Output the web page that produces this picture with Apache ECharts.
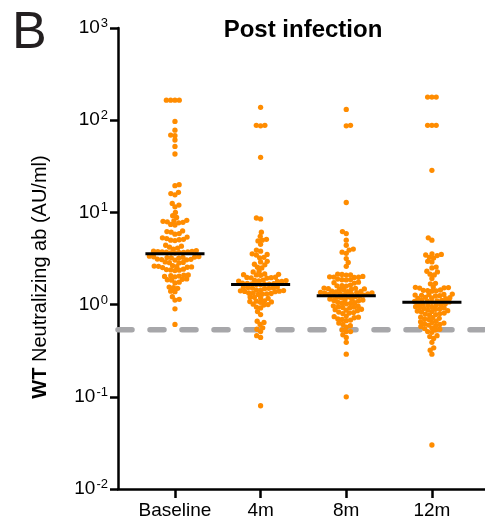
<!DOCTYPE html>
<html>
<head>
<meta charset="utf-8">
<script src="https://cdn.jsdelivr.net/npm/echarts@6/dist/echarts.min.js"></script>
<style>
html,body{margin:0;padding:0;background:#fff;}
#c{width:485px;height:522px;}
</style>
</head>
<body>
<div id="c"></div>
<script>
const categories = ['Baseline', '4m', '8m', '12m'];
const baseline = [165, 165, 165, 165, 97, 78, 69, 68, 61, 52, 43,
  20, 19.5, 16.5, 16, 15.5, 12.5, 12, 11.5, 10, 9.2, 8.8,
  8.2, 8.1, 8, 7.9, 7.8, 7.7, 7.4, 7.3, 6.3, 6.2, 6.1, 5.9, 5.8, 5.4, 5.3, 5.2, 5.1, 5.05, 5.0, 4.95,
  4.4, 4.3, 4.2, 4.1, 4.0,
  3.85, 3.8, 3.78, 3.76, 3.74, 3.72, 3.7, 3.68, 3.66, 3.64, 3.62,
  3.35, 3.32, 3.3, 3.28, 3.26, 3.24, 3.22, 3.2, 3.12, 3.1, 3.08, 3.06, 3.04,
  2.9, 2.87, 2.85, 2.83, 2.65, 2.62, 2.6, 2.58, 2.56, 2.54, 2.52, 2.42, 2.4, 2.38, 2.36, 2.34,
  2.1, 2.08, 2.06, 2.04, 2.02, 2.0, 1.9, 1.88, 1.86, 1.84, 1.75, 1.72, 1.55, 1.53, 1.5, 1.4, 1.38, 1.22, 1.14, 1.12, 0.9, 0.61];
const month4 = [138, 88, 88, 87, 39.6, 8.7, 8.5, 6.1, 5.5, 5.1, 5.0, 4.9, 4.5, 3.9, 3.8, 3.55, 3.5, 3.45, 3.26, 3.22, 2.95, 2.9, 2.74, 2.7, 2.54, 2.5, 2.3, 2.26,
  2.15, 2.13, 2.11, 2.1, 2.08, 1.98, 1.97, 1.96, 1.95, 1.94,
  1.84, 1.83, 1.82, 1.81, 1.8, 1.79, 1.78,
  1.71, 1.7, 1.69, 1.68, 1.67, 1.66, 1.65, 1.64,
  1.55, 1.54, 1.53, 1.52, 1.51, 1.5, 1.49,
  1.44, 1.43, 1.42, 1.41, 1.4, 1.39, 1.38,
  1.34, 1.33, 1.32, 1.31, 1.3, 1.29,
  1.21, 1.2, 1.18, 1.17,
  1.1, 1.09, 1.08, 1.07, 1.06,
  1.01, 1.0, 0.99, 0.94, 0.92, 0.84, 0.78, 0.66, 0.64, 0.61, 0.56, 0.54, 0.51, 0.46, 0.44, 0.08];
const month8 = [131, 88, 87, 12.8, 6.2, 5.9, 5.0, 4.4, 4.0, 3.9, 3.7, 3.6, 3.16, 2.86, 2.6,
  2.14, 2.12, 2.1, 2.09, 2.02, 2.0, 1.99, 1.98, 1.97,
  1.89, 1.87, 1.86, 1.85, 1.75, 1.73, 1.71, 1.63, 1.61, 1.6, 1.59,
  1.51, 1.5, 1.49, 1.48, 1.47, 1.46, 1.45,
  1.4, 1.39, 1.38, 1.37, 1.36, 1.35, 1.34,
  1.33, 1.32, 1.31, 1.3, 1.29, 1.28, 1.27, 1.26,
  1.23, 1.22, 1.21, 1.2, 1.19,
  1.15, 1.14, 1.13, 1.12, 1.11, 1.1,
  1.06, 1.05, 1.04, 1.03, 1.02,
  0.97, 0.96, 0.95, 0.94, 0.93, 0.92,
  0.89, 0.88, 0.87, 0.86, 0.83, 0.82, 0.81, 0.8,
  0.75, 0.74, 0.73, 0.72, 0.7, 0.69, 0.68, 0.67,
  0.63, 0.61, 0.59, 0.57, 0.53, 0.51, 0.51, 0.47, 0.44, 0.39, 0.29, 0.1];
const month12 = [178, 178, 178, 88, 88, 88, 28.6, 5.3, 5.0, 3.55, 3.5, 3.45, 3.4, 3.26, 3.2, 2.95, 2.9, 2.55, 2.5, 2.3, 2.26, 2.14, 2.1, 1.92, 1.7, 1.68,
  1.55, 1.54, 1.53, 1.52, 1.51,
  1.44, 1.43, 1.42, 1.41, 1.4,
  1.3, 1.29, 1.28, 1.27, 1.26, 1.25, 1.24,
  1.2, 1.19, 1.18, 1.17, 1.16,
  1.12, 1.11, 1.1, 1.09, 1.08, 1.07, 1.06,
  1.03, 1.02, 1.01, 1.0, 0.99, 0.98,
  0.95, 0.94, 0.93, 0.92, 0.91, 0.9, 0.89,
  0.87, 0.86, 0.85, 0.84, 0.83,
  0.81, 0.8, 0.79, 0.78, 0.77,
  0.73, 0.72, 0.71, 0.7, 0.69,
  0.66, 0.65, 0.64, 0.63, 0.62,
  0.61, 0.6, 0.59, 0.58,
  0.56, 0.55, 0.54, 0.53,
  0.51, 0.5, 0.46, 0.45, 0.43, 0.39, 0.34, 0.32, 0.29, 0.03];
const medians = [3.55, 1.65, 1.25, 1.06];
const threshold = 0.535;
const groups = [baseline, month4, month8, month12];

const FONT = "'Liberation Sans', Arial, sans-serif";
const ORANGE = '#ff8c00';
const X_MIN = 0.335, X_MAX = 4.62;

const chart = echarts.init(document.getElementById('c'), null, {renderer: 'canvas'});

const option = {
  animation: false,
  backgroundColor: '#fff',
  grid: {left: 118, right: 0, top: 28, bottom: 33},
  graphic: [
    {type: 'text', left: 12, top: 8, style: {text: 'B', fontSize: 52, fontFamily: FONT, fill: '#231f20'}},
    {type: 'text', x: 303, y: 30, style: {text: 'Post infection', fontSize: 24, fontWeight: 'bold', fontFamily: FONT, fill: '#000', align: 'center', verticalAlign: 'middle'}},
    {type: 'text', x: 40, y: 277, rotation: Math.PI / 2,
      style: {text: '{b|WT} Neutralizing ab (AU/ml)', fontSize: 20, fontFamily: FONT, fill: '#000', align: 'center', verticalAlign: 'middle',
        rich: {b: {fontWeight: 'bold', fontSize: 20, fontFamily: FONT, fill: '#000'}}}}
  ],
  xAxis: {
    type: 'value', min: X_MIN, max: X_MAX,
    splitLine: {show: false},
    axisLine: {show: true, lineStyle: {color: '#000', width: 2.5}},
    axisTick: {show: true, customValues: [1, 2, 3, 4], length: 9, lineStyle: {color: '#000', width: 2.5}},
    axisLabel: {customValues: [1, 2, 3, 4], formatter: v => categories[Math.round(v) - 1], fontSize: 19, fontFamily: FONT, color: '#000', margin: 12}
  },
  yAxis: {
    type: 'log', logBase: 10, min: 0.01, max: 1000,
    splitLine: {show: false},
    minorTick: {show: false},
    axisLine: {show: true, lineStyle: {color: '#000', width: 2.5}},
    axisTick: {show: true, length: 8, lineStyle: {color: '#000', width: 2.5}},
    axisLabel: {
      margin: 10,
      formatter: v => '{b|10}{s|' + Math.round(Math.log10(v)) + '}',
      rich: {
        b: {fontSize: 19, fontFamily: FONT, color: '#000', lineHeight: 22, verticalAlign: 'middle'},
        s: {fontSize: 13, fontFamily: FONT, color: '#000', lineHeight: 22, verticalAlign: 'top', padding: [0, 0, 0, 1]}
      }
    }
  },
  series: [
    {type: 'line', id: 'thr', data: [[X_MIN, threshold], [X_MAX, threshold]], symbol: 'none', silent: true, z: 1,
      lineStyle: {color: '#a7a7aa', width: 5.5, type: [14, 18], cap: 'round'}},
    ...groups.map((g, i) => ({type: 'scatter', id: 's' + i, data: g.map(v => [i + 1, v]), symbolSize: 5.3, z: 2,
      itemStyle: {color: ORANGE, opacity: 1}})),
    {type: 'custom', id: 'med', z: 5, data: medians.map((m, i) => [i + 1, m]),
      renderItem: (params, api) => {
        const x = api.value(0), y = api.value(1);
        const p1 = api.coord([x - 0.345, y]);
        const p2 = api.coord([x + 0.345, y]);
        return {type: 'line', shape: {x1: p1[0], y1: p1[1], x2: p2[0], y2: p2[1]}, style: {stroke: '#000', lineWidth: 3}};
      }}
  ]
};
chart.setOption(option);

// beeswarm layout (pixel space) computed from values
const D = 4.3;
function swarm(idx, values) {
  const cx = chart.convertToPixel({gridIndex: 0}, [idx, 1])[0];
  const pts = values.map(v => ({v, py: chart.convertToPixel({gridIndex: 0}, [idx, v])[1]}));
  pts.sort((a, b) => b.py - a.py);
  const placed = [];
  pts.forEach((p, k) => {
    const ints = [];
    placed.forEach(q => {
      const dy = p.py - q.py;
      if (Math.abs(dy) < D) {
        const w = Math.sqrt(D * D - dy * dy);
        ints.push([q.px - w, q.px + w]);
      }
    });
    const cands = [cx];
    ints.forEach(([a, b]) => cands.push(a, b));
    const bias = c => (k % 2 ? (c < cx ? 1e-6 : 0) : (c > cx ? 1e-6 : 0));
    cands.sort((a, b) => (Math.abs(a - cx) + bias(a)) - (Math.abs(b - cx) + bias(b)));
    let chosen = cx;
    for (const c of cands) {
      if (ints.every(([a, b]) => c <= a + 1e-6 || c >= b - 1e-6)) { chosen = c; break; }
    }
    p.px = chosen;
    placed.push(p);
  });
  return pts.map(p => [chart.convertFromPixel({gridIndex: 0}, [p.px, p.py])[0], p.v]);
}
chart.setOption({series: groups.map((g, i) => ({id: 's' + i, data: swarm(i + 1, g)}))});
</script>
</body>
</html>
